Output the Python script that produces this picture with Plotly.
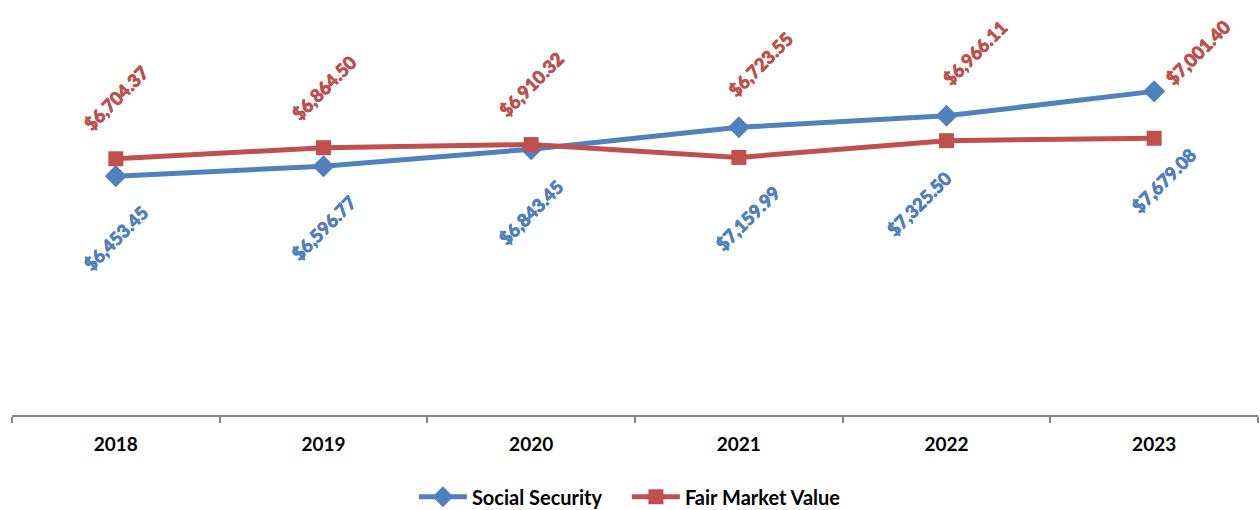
import plotly.graph_objects as go

years = ["2018", "2019", "2020", "2021", "2022", "2023"]
social_security = [6453.45, 6596.77, 6843.45, 7159.99, 7325.50, 7679.08]
fair_market_value = [6704.37, 6864.50, 6910.32, 6723.55, 6966.11, 7001.40]

# label pixel offsets (layout, not data)
ss_dx = [0, 0, 0, 9, -28, 10]
ss_dy = [-62, -62, -63, -91, -88, -89]
fmv_dx = [0, 0, 0, 22, 28, 44]
fmv_dy = [61, 60, 61, 93, 88, 86]

BLUE = "#4F81BD"
RED = "#C0504D"
FONT = "Lato, Carlito, Calibri, sans-serif"


def thick(c):
    return "0.4px 0 0 {0}, -0.4px 0 0 {0}, 0 0.4px 0 {0}, 0 -0.4px 0 {0}".format(c)


fig = go.Figure()
fig.add_trace(go.Scatter(
    x=years, y=social_security, name="Social Security", mode="lines+markers",
    line=dict(color=BLUE, width=5), marker=dict(symbol="diamond", size=17, color=BLUE),
))
fig.add_trace(go.Scatter(
    x=years, y=fair_market_value, name="Fair Market Value", mode="lines+markers",
    line=dict(color=RED, width=5), marker=dict(symbol="square", size=15, color=RED),
))

annotations = []
for i, yr in enumerate(years):
    annotations.append(dict(
        x=i, y=social_security[i], xref="x", yref="y",
        text="<b>${:,.2f}</b>".format(social_security[i]), showarrow=False,
        textangle=-45,
        font=dict(family=FONT, size=18, color=BLUE, weight="bold", shadow=thick(BLUE)),
        xanchor="center", yanchor="middle", xshift=ss_dx[i], yshift=ss_dy[i],
    ))
    annotations.append(dict(
        x=i, y=fair_market_value[i], xref="x", yref="y",
        text="<b>${:,.2f}</b>".format(fair_market_value[i]), showarrow=False,
        textangle=-45,
        font=dict(family=FONT, size=18, color=RED, weight="bold", shadow=thick(RED)),
        xanchor="center", yanchor="middle", xshift=fmv_dx[i], yshift=fmv_dy[i],
    ))

fig.update_layout(
    width=1260, height=510,
    margin=dict(l=12, r=2, t=0, b=95),
    paper_bgcolor="white", plot_bgcolor="white",
    showlegend=True,
    legend=dict(orientation="h", x=0.4935, xanchor="center",
                yref="container", y=0.026, yanchor="middle",
                font=dict(family=FONT, size=20, color="#000000", weight="bold"),
                itemwidth=48, tracegroupgap=0,
                entrywidth=150, entrywidthmode="pixels"),
    xaxis=dict(type="category", range=[-0.5, 5.5], autorange=False,
               showline=True, linecolor="#868686", linewidth=2,
               ticks="outside", tickson="boundaries", ticklen=6, tickwidth=2,
               tickcolor="#868686", showgrid=False, zeroline=False,
               tickangle=0,
               tickfont=dict(family=FONT, size=19, color="#000000", weight="bold"),
               ticklabelstandoff=11),
    yaxis=dict(visible=False, range=[3000, 9000], autorange=False,
               showgrid=False, zeroline=False),
    annotations=annotations,
)

fig.write_html("out.html", config={"displayModeBar": False},
               post_script="document.body.style.margin='0';")
